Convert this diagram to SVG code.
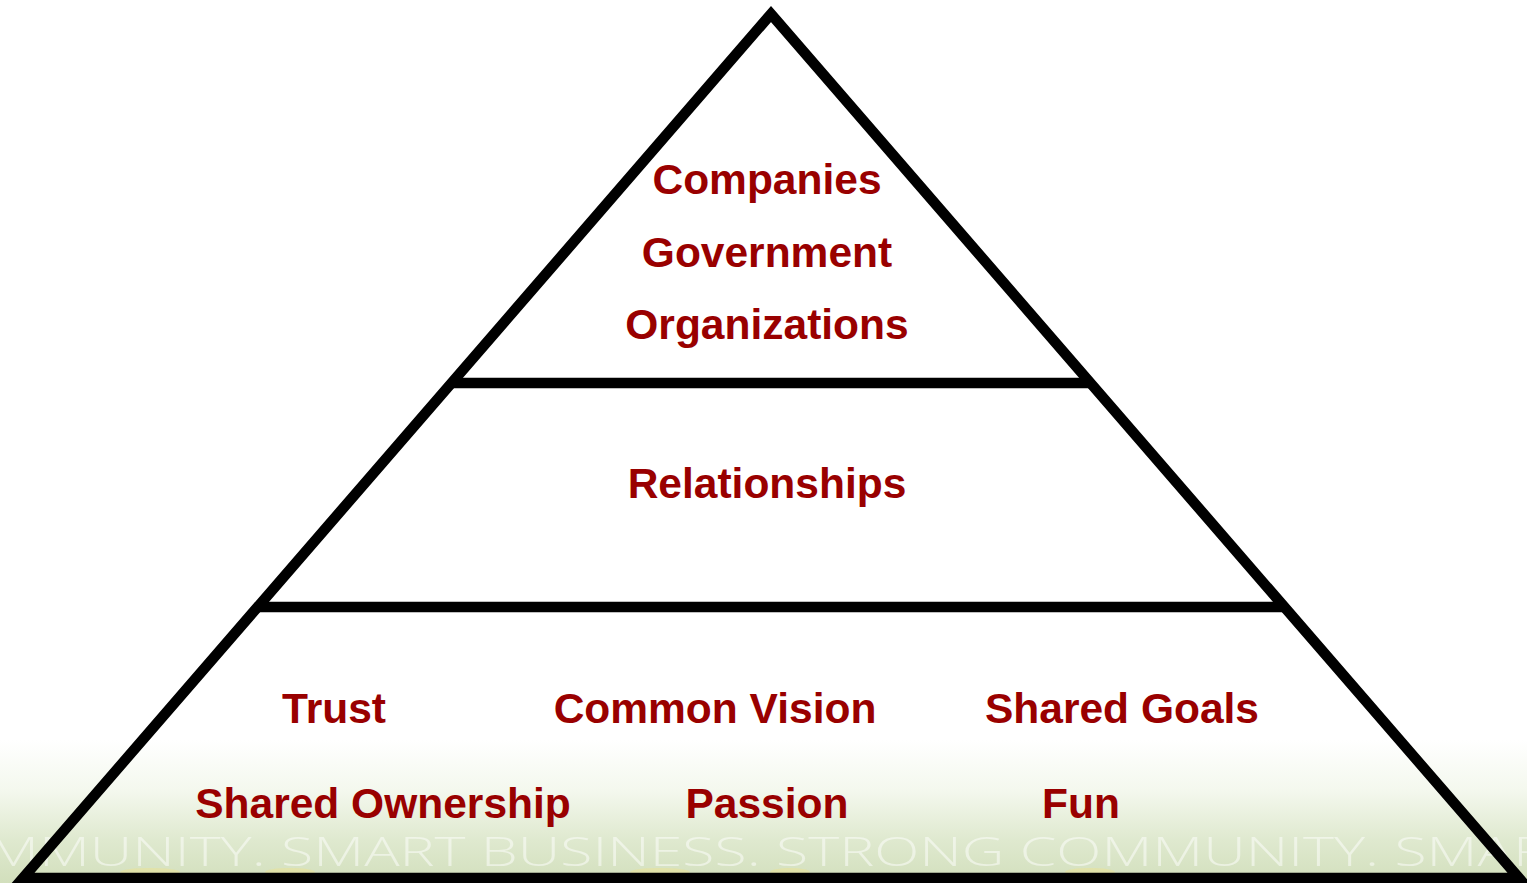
<svg xmlns="http://www.w3.org/2000/svg" width="1527" height="883" viewBox="0 0 1527 883">
  <defs>
    <linearGradient id="bg" x1="0" y1="0" x2="0" y2="1">
      <stop offset="0" stop-color="#ffffff"/>
      <stop offset="0.35" stop-color="#f4f8ee"/>
      <stop offset="0.7" stop-color="#dfe9cf"/>
      <stop offset="1" stop-color="#d2dfbc"/>
    </linearGradient>
    <style>
      .lbl { font-family: "Liberation Sans", Arial, sans-serif; font-weight: bold; font-size: 42.5px; fill: #990000; text-anchor: middle; }
      .edge { fill: none; stroke: #000000; stroke-width: 10.5; }
      .wm { font-family: "Open Sans", "Liberation Sans", sans-serif; font-weight: 300; font-size: 40px; fill: #ffffff; fill-opacity: 0.5; }
    </style>
  </defs>
  <rect x="0" y="0" width="1527" height="883" fill="#ffffff"/>
  <rect x="0" y="740" width="1527" height="143" fill="url(#bg)"/>
  <g fill="#e8e39a" fill-opacity="0.6">
    <ellipse cx="150" cy="872" rx="30" ry="4"/>
    <ellipse cx="290" cy="872" rx="25" ry="4"/>
    <ellipse cx="660" cy="872" rx="30" ry="4"/>
    <ellipse cx="790" cy="872" rx="20" ry="4"/>
    <ellipse cx="1090" cy="872" rx="25" ry="4"/>
  </g>
  <text class="wm" x="-12" y="866" textLength="1560" lengthAdjust="spacingAndGlyphs" transform="translate(0,0)">MMUNITY. SMART BUSINESS. STRONG COMMUNITY. SMAR</text>

  <g id="connectors">
    <polygon class="edge" points="771,14 1519,878 23,878" stroke-linejoin="miter"/>
    <line class="edge" x1="452" y1="383" x2="1090" y2="383"/>
    <line class="edge" x1="258" y1="607" x2="1284" y2="607"/>
  </g>

  <g id="node-top">
    <text class="lbl" x="767" y="194">Companies</text>
    <text class="lbl" x="767" y="267">Government</text>
    <text class="lbl" x="767" y="339">Organizations</text>
  </g>
  <g id="node-middle">
    <text class="lbl" x="767" y="498">Relationships</text>
  </g>
  <g id="node-base">
    <text class="lbl" x="334" y="723">Trust</text>
    <text class="lbl" x="715" y="723">Common Vision</text>
    <text class="lbl" x="1122" y="723">Shared Goals</text>
    <text class="lbl" x="383" y="818">Shared Ownership</text>
    <text class="lbl" x="767" y="818">Passion</text>
    <text class="lbl" x="1081" y="818">Fun</text>
  </g>
</svg>
